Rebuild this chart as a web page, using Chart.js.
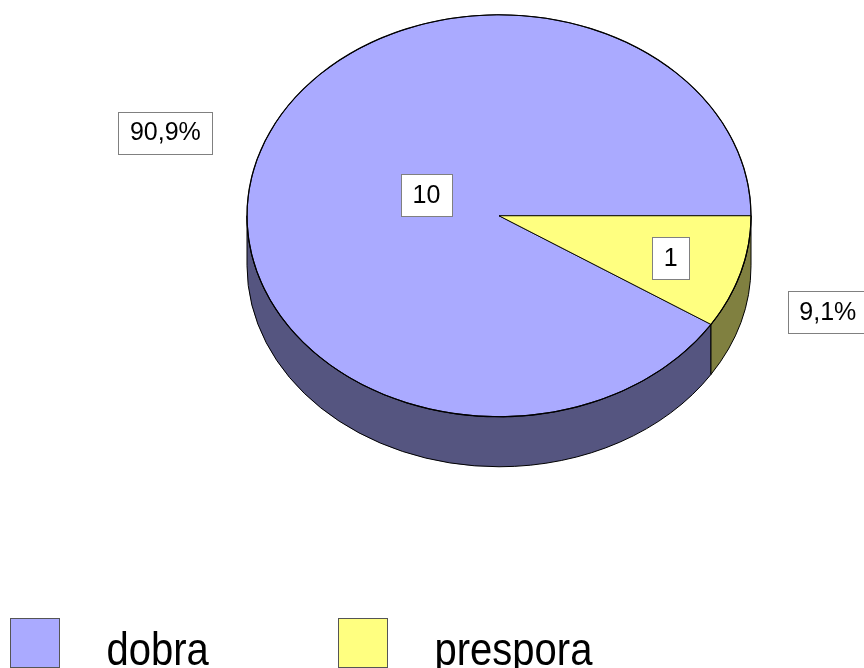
<!DOCTYPE html>
<html>
<head>
<meta charset="utf-8">
<script src="https://cdn.jsdelivr.net/npm/chart.js@4"></script>
<style>
  body { margin: 0; background: #fff; }
</style>
</head>
<body>
<canvas id="pie" width="864" height="668"></canvas>
<script>
// data
const labels = ['dobra', 'prespora'];
const values = [10, 1];

// look
const topColors = ['#aaaaff', '#ffff80'];
const sideColors = ['#555580', '#808040'];
const tilt = 201 / 252;
const depth = 50;
const innerPos = [[0.30, 0.36], [0.71, 0.75]];
const outerPos = [[1.38, 1.47], [1.36, 1.70]];
const labelFont = '25px "Liberation Sans", Arial, sans-serif';
const legendFont = '40px "Liberation Sans", Arial, sans-serif';

const total = values.reduce((a, b) => a + b, 0);
const percents = values.map(v => (v / total * 100).toFixed(1).replace('.', ',') + '%');

function drawBox(ctx, text, cx, cy) {
    ctx.font = labelFont;
    const w = Math.round(ctx.measureText(text).width + 23);
    const h = 42;
    const left = Math.round(cx - w / 2) + 0.5;
    const top = Math.round(cy - h / 2) + 0.5;
    ctx.fillStyle = '#ffffff';
    ctx.fillRect(left, top, w, h);
    ctx.strokeStyle = '#808080';
    ctx.lineWidth = 1;
    ctx.strokeRect(left, top, w, h);
    ctx.fillStyle = '#000000';
    ctx.textAlign = 'center';
    ctx.textBaseline = 'middle';
    ctx.fillText(text, cx, cy + 1);
}

// squash the pie and add the side walls
const pie3d = {
    id: 'pie3d',
    beforeDatasetsDraw(chart) {
        const ctx = chart.ctx;
        const arcs = chart.getDatasetMeta(0).data;
        ctx.save();
        arcs.forEach((arc, i) => {
            const p = arc.getProps(['x', 'y', 'startAngle', 'endAngle', 'outerRadius'], true);
            const cy = p.y * tilt;
            const rx = p.outerRadius;
            const ry = p.outerRadius * tilt;
            for (let n = -1; n <= 2; n++) {
                const a = Math.max(p.startAngle, n * 2 * Math.PI);
                const b = Math.min(p.endAngle, n * 2 * Math.PI + Math.PI);
                if (b <= a) continue;
                ctx.beginPath();
                ctx.ellipse(p.x, cy, rx, ry, 0, a, b);
                ctx.ellipse(p.x, cy + depth, rx, ry, 0, b, a, true);
                ctx.closePath();
                ctx.fillStyle = sideColors[i];
                ctx.fill();
                ctx.lineWidth = 1;
                ctx.strokeStyle = '#000000';
                ctx.stroke();
            }
        });
        ctx.restore();
        ctx.save();
        ctx.scale(1, tilt);
    },
    afterDatasetsDraw(chart) {
        const ctx = chart.ctx;
        ctx.restore();
        // crisp rim on top of the squashed arcs
        const p = chart.getDatasetMeta(0).data[0].getProps(['x', 'y', 'outerRadius'], true);
        ctx.save();
        ctx.beginPath();
        ctx.ellipse(p.x, p.y * tilt, p.outerRadius, p.outerRadius * tilt, 0, 0, 2 * Math.PI);
        ctx.lineWidth = 1.2;
        ctx.strokeStyle = '#000000';
        ctx.stroke();
        ctx.restore();
    },
    afterDraw(chart) {
        const ctx = chart.ctx;
        const arcs = chart.getDatasetMeta(0).data;
        ctx.save();
        arcs.forEach((arc, i) => {
            const p = arc.getProps(['x', 'y', 'startAngle', 'endAngle', 'outerRadius'], true);
            const m = (p.startAngle + p.endAngle) / 2;
            const r = p.outerRadius;
            drawBox(ctx, String(values[i]),
                p.x + Math.cos(m) * r * innerPos[i][0],
                (p.y + Math.sin(m) * r * innerPos[i][1]) * tilt);
            drawBox(ctx, percents[i],
                p.x + Math.cos(m) * r * outerPos[i][0],
                (p.y + Math.sin(m) * r * outerPos[i][1]) * tilt);
        });

        // legend
        labels.forEach((label, i) => {
            const bx = 10.5 + i * 328;
            ctx.fillStyle = topColors[i];
            ctx.fillRect(bx, 618.5, 49, 49);
            ctx.strokeStyle = '#555555';
            ctx.lineWidth = 1;
            ctx.strokeRect(bx, 618.5, 49, 49);
            ctx.save();
            ctx.translate(bx + 96, 665);
            ctx.scale(1, 1.15);
            ctx.fillStyle = '#000000';
            ctx.font = legendFont;
            ctx.textAlign = 'left';
            ctx.textBaseline = 'alphabetic';
            ctx.fillText(label, 0, 0);
            ctx.restore();
        });
        ctx.restore();
    }
};

const config = {
    type: 'pie',
    data: {
        labels: labels,
        datasets: [{
            data: values,
            backgroundColor: topColors,
            borderColor: '#000000',
            borderWidth: 1,
            clip: false
        }]
    },
    options: {
        responsive: false,
        animation: false,
        rotation: 90 + 360 * values[1] / total,
        layout: {
            padding: { left: 246.5, right: 112.5, top: 18, bottom: 145 }
        },
        plugins: {
            legend: { display: false },
            tooltip: { enabled: false }
        }
    },
    plugins: [pie3d]
};

const pieChart = new Chart(document.getElementById('pie'), config);
</script>
</body>
</html>
